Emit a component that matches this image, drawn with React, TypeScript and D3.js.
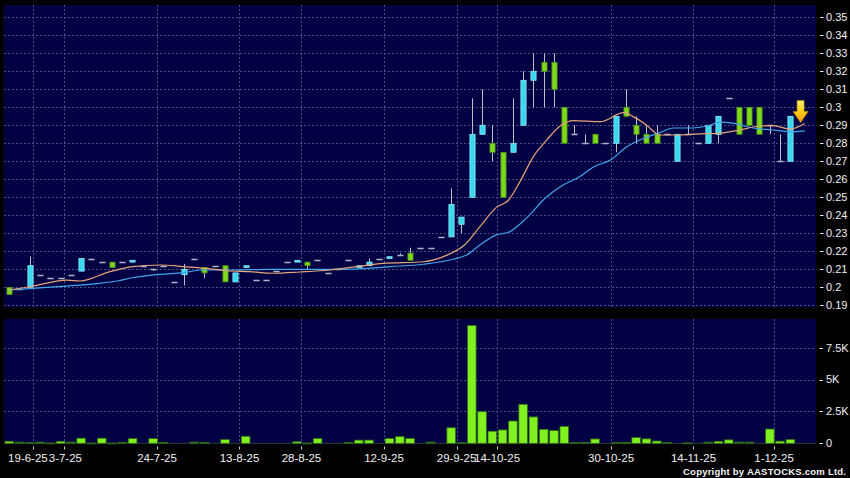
import React from "react";
import * as d3 from "d3";

const W = 850;
const H = 478;

// ---- data ----
const opens = [0.2, 0.199, 0.2, 0.207, 0.205, 0.205, 0.207, 0.209, 0.216, 0.214, 0.214, 0.214, 0.214, 0.212, 0.21, 0.212, 0.203, 0.207, 0.216, 0.211, 0.212, 0.212, 0.203, 0.211, 0.204, 0.204, 0.209, 0.214, 0.214, 0.214, 0.215, 0.208, 0.21, 0.215, 0.211, 0.212, 0.216, 0.216, 0.218, 0.219, 0.222, 0.222, 0.228, 0.228, 0.235, 0.25, 0.285, 0.28, 0.275, 0.275, 0.29, 0.315, 0.325, 0.325, 0.3, 0.285, 0.28, 0.285, 0.28, 0.28, 0.3, 0.29, 0.285, 0.285, 0.285, 0.27, 0.285, 0.28, 0.28, 0.285, 0.305, 0.3, 0.3, 0.3, 0.29, 0.27, 0.27];
const highs = [0.2, 0.199, 0.217, 0.207, 0.205, 0.205, 0.207, 0.216, 0.216, 0.214, 0.214, 0.214, 0.215, 0.212, 0.21, 0.212, 0.203, 0.213, 0.216, 0.211, 0.212, 0.212, 0.208, 0.212, 0.204, 0.204, 0.209, 0.214, 0.215, 0.214, 0.215, 0.208, 0.21, 0.215, 0.212, 0.216, 0.216, 0.217, 0.219, 0.222, 0.222, 0.222, 0.228, 0.255, 0.239, 0.305, 0.31, 0.29, 0.275, 0.305, 0.32, 0.33, 0.33, 0.33, 0.3, 0.29, 0.285, 0.285, 0.28, 0.295, 0.31, 0.295, 0.29, 0.29, 0.285, 0.285, 0.29, 0.28, 0.29, 0.295, 0.305, 0.3, 0.3, 0.3, 0.29, 0.285, 0.295];
const lows = [0.196, 0.199, 0.2, 0.207, 0.205, 0.205, 0.207, 0.209, 0.216, 0.214, 0.211, 0.214, 0.214, 0.212, 0.209, 0.212, 0.203, 0.201, 0.216, 0.205, 0.212, 0.203, 0.203, 0.211, 0.204, 0.204, 0.209, 0.214, 0.214, 0.21, 0.215, 0.208, 0.21, 0.215, 0.211, 0.212, 0.216, 0.216, 0.218, 0.215, 0.222, 0.222, 0.228, 0.228, 0.23, 0.25, 0.285, 0.27, 0.25, 0.275, 0.29, 0.3, 0.3, 0.3, 0.28, 0.285, 0.28, 0.28, 0.28, 0.275, 0.295, 0.28, 0.28, 0.28, 0.285, 0.27, 0.285, 0.28, 0.28, 0.28, 0.305, 0.285, 0.29, 0.285, 0.285, 0.27, 0.27];
const closes = [0.196, 0.199, 0.212, 0.207, 0.205, 0.205, 0.207, 0.216, 0.216, 0.214, 0.211, 0.214, 0.215, 0.212, 0.21, 0.212, 0.203, 0.21, 0.216, 0.208, 0.212, 0.203, 0.208, 0.212, 0.204, 0.204, 0.209, 0.214, 0.215, 0.212, 0.215, 0.208, 0.21, 0.215, 0.212, 0.214, 0.216, 0.217, 0.218, 0.215, 0.222, 0.222, 0.228, 0.246, 0.239, 0.285, 0.29, 0.275, 0.25, 0.28, 0.315, 0.32, 0.32, 0.31, 0.28, 0.285, 0.28, 0.28, 0.28, 0.295, 0.295, 0.285, 0.28, 0.28, 0.285, 0.285, 0.285, 0.28, 0.29, 0.295, 0.305, 0.285, 0.29, 0.285, 0.29, 0.27, 0.295];
// volume in thousands of shares
const volumes = [0.16, 0.1, 0.05, 0.1, 0.02, 0.16, 0.1, 0.4, 0.02, 0.4, 0.02, 0.08, 0.37, 0, 0.37, 0.08, 0, 0, 0.1, 0.08, 0, 0.3, 0, 0.55, 0, 0, 0, 0, 0.12, 0.02, 0.38, 0, 0, 0.08, 0.25, 0.25, 0, 0.38, 0.53, 0.38, 0, 0.1, 0, 1.22, 0.05, 9.25, 2.48, 0.95, 1.05, 1.75, 3.06, 2.07, 1.1, 1.0, 1.33, 0.05, 0.08, 0.34, 0, 0.05, 0.08, 0.45, 0.35, 0.18, 0.05, 0, 0.03, 0, 0.1, 0.16, 0.27, 0.1, 0.1, 0, 1.12, 0.17, 0.3];

// moving averages: [candle position, value]
const maFastPos = [0, 2, 5.6, 6.9, 9.8, 12, 14.7, 16.9, 19.2, 21.2, 23.4, 25.7, 28.3, 31.2, 33.8, 36.4, 40.3, 42.6, 44.3, 45.8, 47.4, 48.6, 49.7, 51.0, 52.3, 53.6, 54.9, 57.5, 59.8, 60.7, 62.0, 63.3, 64.9, 67.2, 69.2, 71.1, 73.0, 74.3, 76.0, 77.4];
const maFastVal = [0.1985, 0.2003, 0.204, 0.2035, 0.2087, 0.2115, 0.2124, 0.2115, 0.2105, 0.2092, 0.2087, 0.2078, 0.2085, 0.2096, 0.2115, 0.2133, 0.2142, 0.2179, 0.2235, 0.2337, 0.2444, 0.2485, 0.2587, 0.2726, 0.2818, 0.2896, 0.2926, 0.292, 0.297, 0.2948, 0.2902, 0.2846, 0.2846, 0.2852, 0.2856, 0.2874, 0.2896, 0.2898, 0.2879, 0.291];
const maSlowPos = [0, 2.3, 5.6, 8.8, 10.5, 12, 14.7, 16.9, 18.9, 21.8, 25.1, 28.3, 32.8, 37.1, 40.3, 43.2, 44.5, 45.8, 47.4, 48.7, 50.3, 52.3, 53.9, 55.5, 56.8, 58.5, 60.1, 62.0, 63.3, 64.6, 66.5, 67.9, 69.2, 70.5, 72.4, 74.3, 76.0, 77.4];
const maSlowVal = [0.1985, 0.1994, 0.2007, 0.2022, 0.2035, 0.2053, 0.2072, 0.2081, 0.2096, 0.2096, 0.21, 0.21, 0.21, 0.2115, 0.2128, 0.2156, 0.2179, 0.2235, 0.2291, 0.2309, 0.2383, 0.2503, 0.2568, 0.2614, 0.2667, 0.2707, 0.2781, 0.2833, 0.2859, 0.2885, 0.2885, 0.2896, 0.2918, 0.2911, 0.2885, 0.2874, 0.2864, 0.2869];

const priceTicks = [0.35, 0.34, 0.33, 0.32, 0.31, 0.3, 0.29, 0.28, 0.27, 0.26, 0.25, 0.24, 0.23, 0.22, 0.21, 0.2, 0.19];
const volTicks = [7.5, 5, 2.5, 0];
const volTickLabels = ["7.5K", "5K", "2.5K", "0"];
const dateLabels = ["19-6-25", "3-7-25", "24-7-25", "13-8-25", "28-8-25", "12-9-25", "29-9-25", "14-10-25", "30-10-25", "14-11-25", "1-12-25"];
const dateSlots = [2.82, 5.79, 14.89, 22.91, 28.94, 36.97, 44.03, 47.97, 59.06, 67.08, 74.92];
const signalSlot = 77.5;
const signalPrice = 0.2915;

const FONT = "'Liberation Sans', Arial, Helvetica, sans-serif";
const PANEL = "#000042";
const GRID = "#4e4e86";
const CYAN = "#3ad8ee";
const CYAN_EDGE = "#8eeaf6";
const GREEN = "#7ed81c";
const GREEN_EDGE = "#4c8c18";
const DOJI = "#a6b6c8";
const WICK = "#b8c0c8";

export default function App() {
  const x = d3.scaleLinear().domain([0, 79]).range([4, 816]);
  const y = d3.scaleLinear().domain([0.19, 0.35]).range([305.3, 17.3]);
  const vy = d3.scaleLinear().domain([0, 7.5]).range([443.3, 347.7]);
  const slot = x(1) - x(0);
  const bodyW = 5.2;

  const pricePanel = { x0: 4, x1: 816, y0: 5, y1: 307.5 };
  const volPanel = { x0: 4, x1: 816, y0: 319, y1: 444 };

  const lineGen = d3
    .line<[number, number]>()
    .x((d) => x(d[0] + 0.5))
    .y((d) => y(d[1]))
    .curve(d3.curveMonotoneX);

  const fastPts: [number, number][] = maFastPos.map((p, i) => [p, maFastVal[i]]);
  const slowPts: [number, number][] = maSlowPos.map((p, i) => [p, maSlowVal[i]]);

  const ax = x(signalSlot);
  const ay = y(signalPrice);

  // the first two date labels sit very close together: keep them side by side
  const labelAnchor = (i: number) => (i === 0 ? "end" : i === 1 ? "start" : "middle");
  const labelX = (i: number) => {
    if (i === 0 || i === 1) return (x(dateSlots[0]) + x(dateSlots[1])) / 2 + (i === 0 ? -0.5 : 0.5);
    return x(dateSlots[i]);
  };

  return (
    <svg
      width={W}
      height={H}
      style={{ position: "absolute", left: 0, top: 0, background: "#000", display: "block" }}
      fontFamily={FONT}
    >
      <defs>
        <linearGradient id="arrowGrad" x1="0" y1="0" x2="0" y2="1">
          <stop offset="0%" stopColor="#fff27a" />
          <stop offset="45%" stopColor="#ffd21a" />
          <stop offset="100%" stopColor="#f59a00" />
        </linearGradient>
        <clipPath id="priceClip">
          <rect x={pricePanel.x0} y={pricePanel.y0} width={pricePanel.x1 - pricePanel.x0} height={pricePanel.y1 - pricePanel.y0} />
        </clipPath>
      </defs>
      <rect x={0} y={0} width={W} height={H} fill="#000" />

      {/* price panel */}
      <rect x={pricePanel.x0} y={pricePanel.y0} width={pricePanel.x1 - pricePanel.x0} height={pricePanel.y1 - pricePanel.y0} fill={PANEL} />
      {priceTicks.map((t) => (
        <line key={"hg" + t} x1={pricePanel.x0} x2={pricePanel.x1} y1={Math.round(y(t)) + 0.5} y2={Math.round(y(t)) + 0.5} stroke={GRID} strokeDasharray="2,2" strokeWidth={1} />
      ))}
      {dateSlots.map((s, i) => (
        <line key={"vg" + i} x1={Math.round(x(s)) + 0.5} x2={Math.round(x(s)) + 0.5} y1={pricePanel.y0} y2={pricePanel.y1} stroke={GRID} strokeDasharray="2,2" strokeWidth={1} />
      ))}

      <g clipPath="url(#priceClip)">
        {/* wicks */}
        {opens.map((o, i) => {
          const cx = Math.round(x(i + 0.5)) + 0.5;
          if (highs[i] === lows[i]) return null;
          return <line key={"w" + i} x1={cx} x2={cx} y1={y(highs[i])} y2={y(lows[i])} stroke={WICK} strokeWidth={1} />;
        })}
        {/* bodies */}
        {opens.map((o, i) => {
          const c = closes[i];
          const cx = Math.round(x(i + 0.5)) + 0.5;
          if (o === c) {
            return (
              <line key={"b" + i} x1={cx - bodyW / 2 - 0.5} x2={cx + bodyW / 2 + 0.5} y1={Math.round(y(c)) + 0.5} y2={Math.round(y(c)) + 0.5} stroke={DOJI} strokeWidth={1.3} />
            );
          }
          const up = c > o;
          const top = y(Math.max(o, c));
          const h = Math.abs(y(o) - y(c));
          return (
            <rect
              key={"b" + i}
              x={cx - bodyW / 2}
              y={top}
              width={bodyW}
              height={Math.max(h, 1)}
              fill={up ? CYAN : GREEN}
              stroke={up ? CYAN_EDGE : GREEN_EDGE}
              strokeWidth={0.8}
            />
          );
        })}
        {/* moving averages */}
        <path d={lineGen(slowPts) || ""} fill="none" stroke="#40a6ec" strokeWidth={1.2} />
        <path d={lineGen(fastPts) || ""} fill="none" stroke="#e6a47a" strokeWidth={1.2} />
        {/* signal arrow */}
        <path
          d={`M ${ax - 3.5} ${ay - 22} L ${ax + 3.5} ${ay - 22} L ${ax + 3.5} ${ay - 11} L ${ax + 7.5} ${ay - 11} L ${ax} ${ay} L ${ax - 7.5} ${ay - 11} L ${ax - 3.5} ${ay - 11} Z`}
          fill="url(#arrowGrad)"
          stroke="#d08a00"
          strokeWidth={0.6}
        />
      </g>

      {/* price axis */}
      {priceTicks.map((t) => (
        <g key={"pt" + t}>
          <line x1={820} x2={823.5} y1={Math.round(y(t)) + 0.5} y2={Math.round(y(t)) + 0.5} stroke="#e8e8e8" strokeWidth={1} />
          <text x={826} y={y(t)} dy="0.35em" fill="#f0f0f0" fontSize={11}>
            {String(+t.toFixed(2))}
          </text>
        </g>
      ))}

      {/* volume panel */}
      <rect x={volPanel.x0} y={volPanel.y0} width={volPanel.x1 - volPanel.x0} height={volPanel.y1 - volPanel.y0} fill={PANEL} />
      {volTicks.filter((t) => t > 0).map((t) => (
        <line key={"vh" + t} x1={volPanel.x0} x2={volPanel.x1} y1={Math.round(vy(t)) + 0.5} y2={Math.round(vy(t)) + 0.5} stroke={GRID} strokeDasharray="2,2" strokeWidth={1} />
      ))}
      {dateSlots.map((s, i) => (
        <line key={"vvg" + i} x1={Math.round(x(s)) + 0.5} x2={Math.round(x(s)) + 0.5} y1={volPanel.y0} y2={volPanel.y1} stroke={GRID} strokeDasharray="2,2" strokeWidth={1} />
      ))}
      <line x1={volPanel.x0} x2={volPanel.x1} y1={vy(0)} y2={vy(0)} stroke="#2a3c3a" strokeWidth={1} />
      {volumes.map((v, i) => {
        if (v <= 0) return null;
        const top = vy(v);
        const h = vy(0) - top;
        return (
          <rect
            key={"v" + i}
            x={x(i) + 0.9}
            y={top}
            width={slot - 1.6}
            height={Math.max(h, 0.8)}
            fill={h < 1.5 ? "#2f6a22" : "#80f01e"}
            stroke="#2f6a1a"
            strokeWidth={0.8}
          />
        );
      })}

      {/* volume axis */}
      {volTicks.map((t, i) => (
        <g key={"vt" + t}>
          <line x1={819.5} x2={823} y1={Math.round(vy(t)) + 0.5} y2={Math.round(vy(t)) + 0.5} stroke="#e8e8e8" strokeWidth={1} />
          <text x={826} y={vy(t)} dy="0.35em" fill="#f0f0f0" fontSize={11}>
            {volTickLabels[i]}
          </text>
        </g>
      ))}

      {/* date axis */}
      {dateSlots.map((s, i) => (
        <g key={"dt" + i}>
          <line x1={Math.round(x(s)) + 0.5} x2={Math.round(x(s)) + 0.5} y1={446.5} y2={449.5} stroke="#d0d0d0" strokeWidth={1} />
          <text x={labelX(i)} y={462} textAnchor={labelAnchor(i)} fill="#f0f0f0" fontSize={11.5}>
            {dateLabels[i]}
          </text>
        </g>
      ))}

      <text
        x={846}
        y={474.5}
        textAnchor="end"
        fill="#f4f4f4"
        fontSize={9.5}
        fontWeight="bold"
        textLength={163}
        lengthAdjust="spacing"
      >
        Copyright by AASTOCKS.com Ltd.
      </text>
    </svg>
  );
}
